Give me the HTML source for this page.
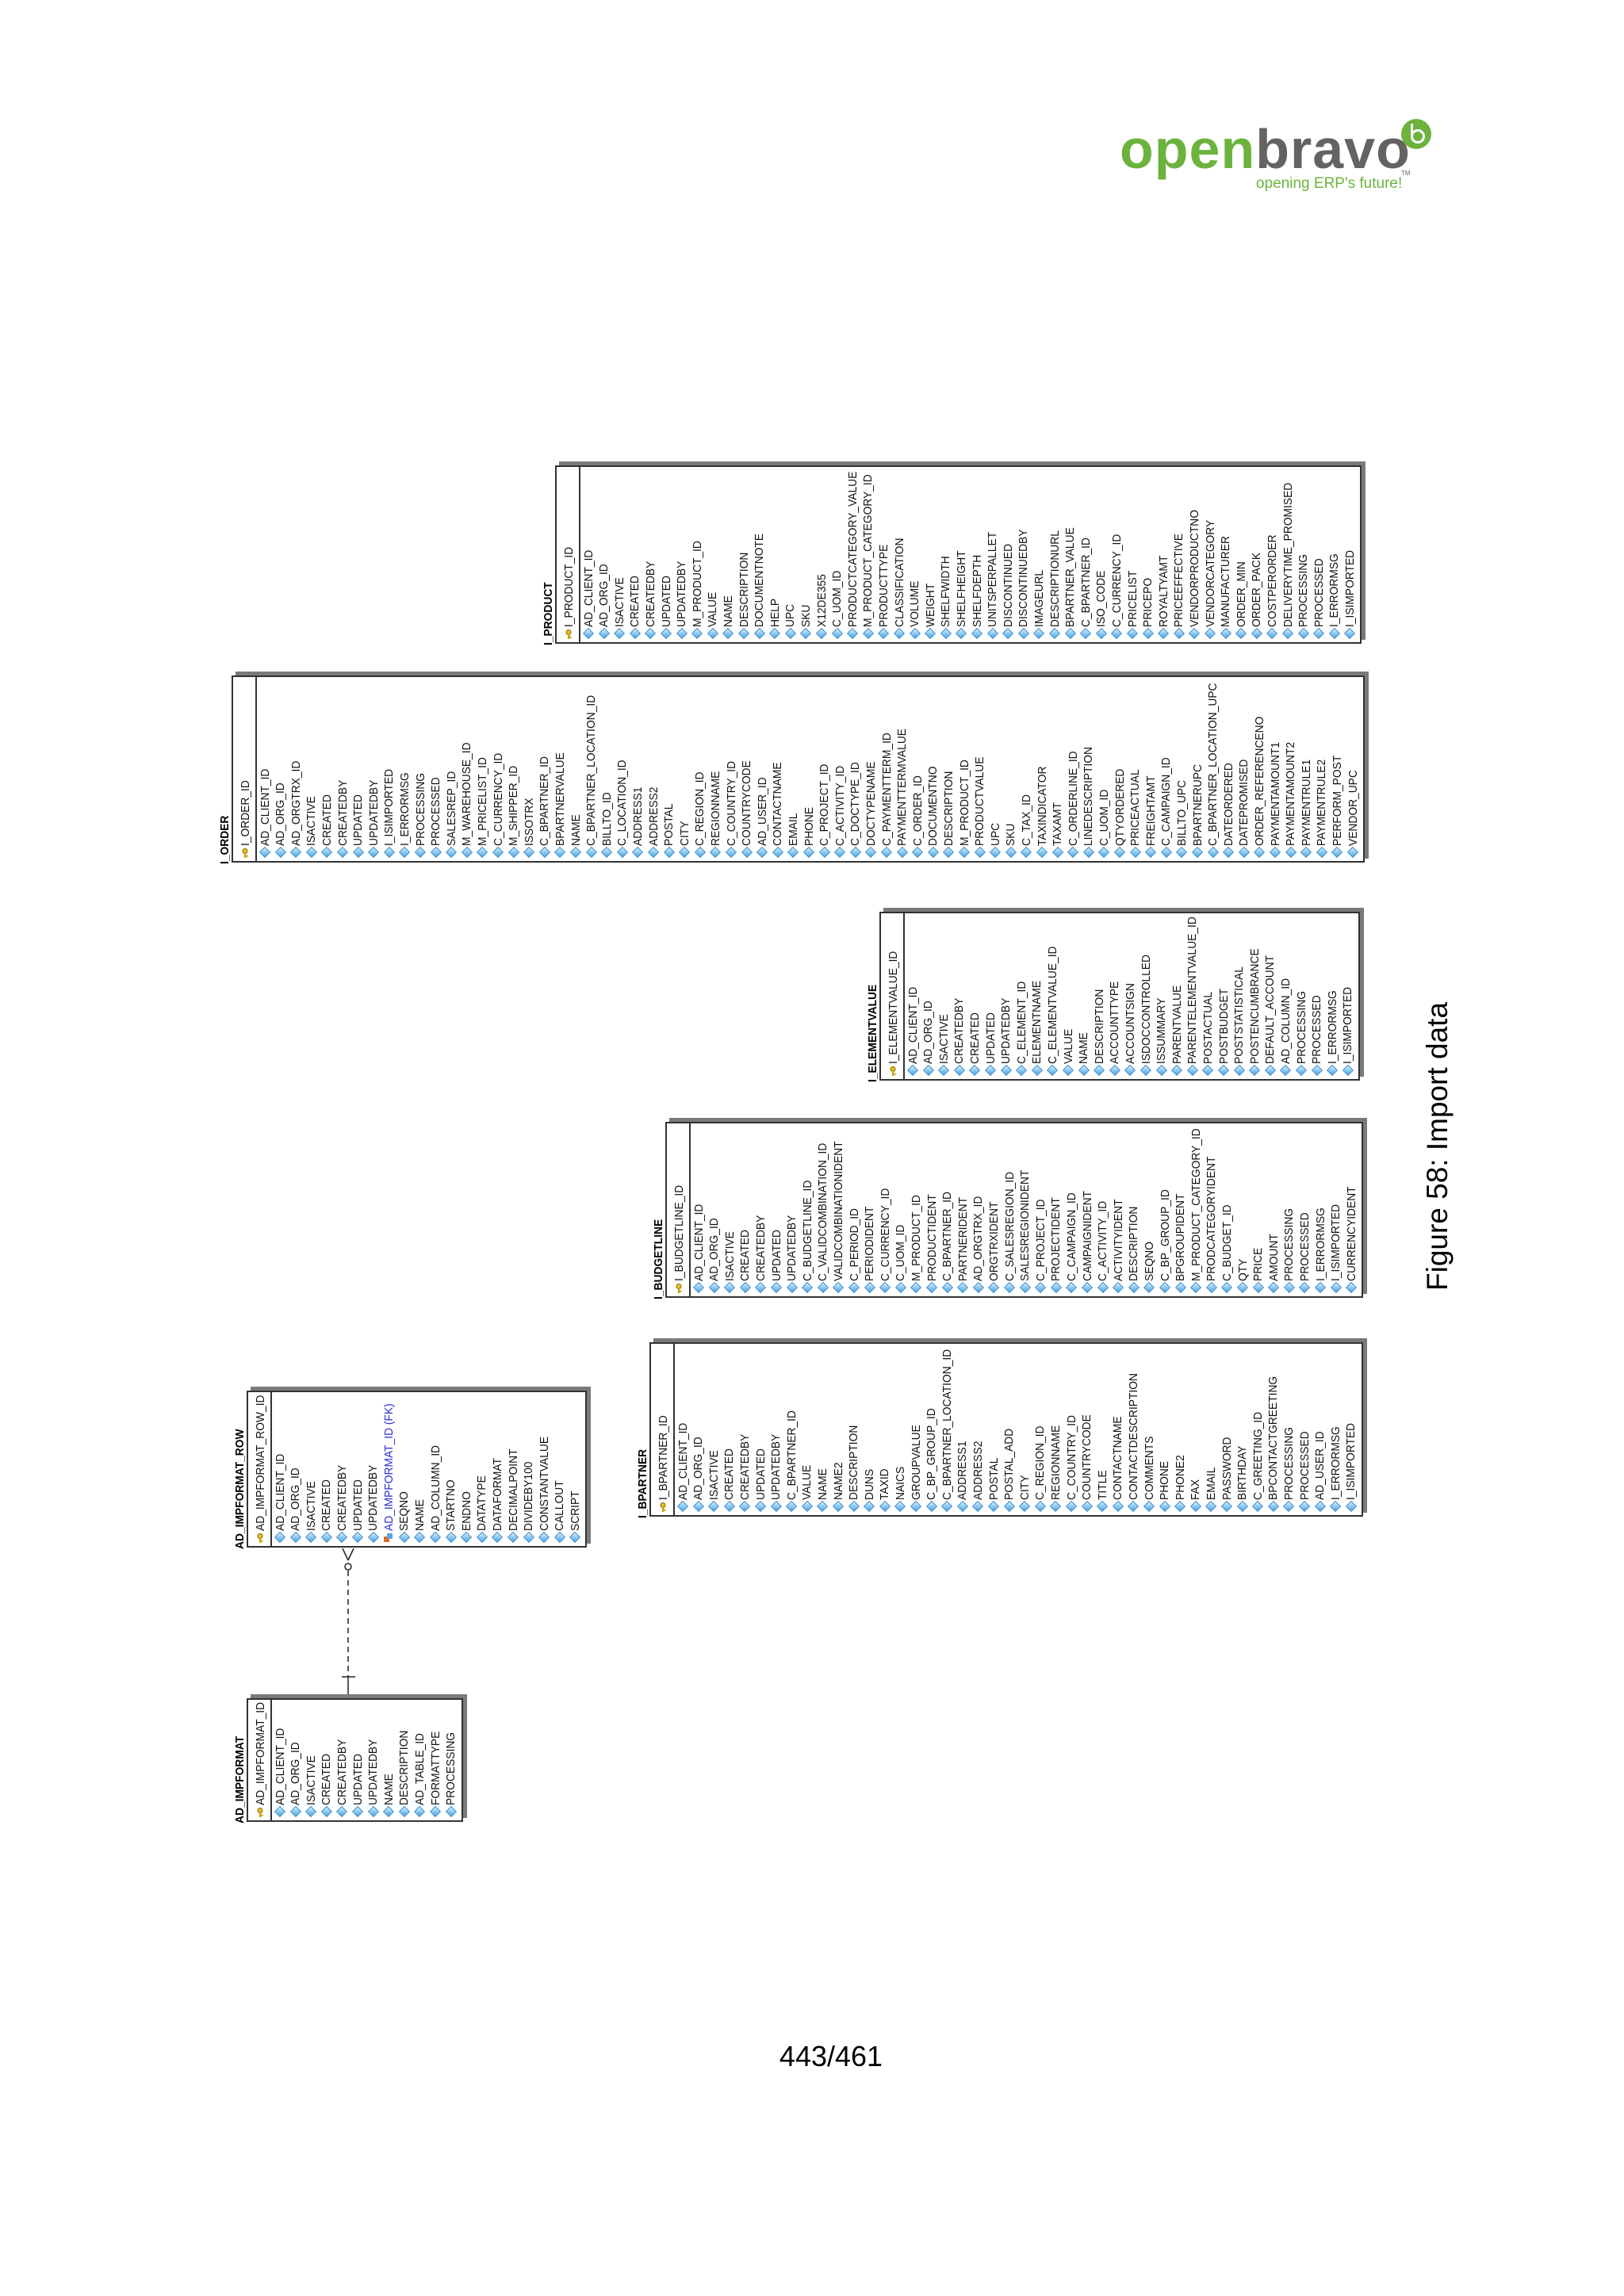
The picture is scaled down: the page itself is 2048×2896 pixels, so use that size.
<!DOCTYPE html>
<html>
<head>
<meta charset="utf-8">
<style>
  html,body{margin:0;padding:0;background:#fff;}
  #page{position:relative;width:2048px;height:2896px;overflow:hidden;background:#fff;font-family:"Liberation Sans",Arial,sans-serif;}
  .shadow{position:absolute;background:#7a7a7a;}
  .box{position:absolute;background:#fff;border:2px solid #333;box-sizing:border-box;}
  .divider{position:absolute;width:1.5px;background:#333;}
  .fld{position:absolute;white-space:nowrap;font-size:15px;line-height:15px;color:#111;transform-origin:0 0;transform:rotate(-90deg) scale(0.92,1);}
  .ttl{font-weight:bold;color:#000;}
  .fk{color:#2b2bd6;}
  .dia{position:absolute;width:8px;height:8px;background:linear-gradient(135deg,#d6f0ff,#4aa3e0);border:1px solid #3b8ccc;transform:rotate(45deg);}
  .key{position:absolute;width:9px;height:12px;}
  .cap{position:absolute;font-size:37px;white-space:nowrap;transform-origin:0 0;transform:rotate(-90deg);color:#000;}
</style>
</head>
<body>
<div id="page">
  <div style="position:absolute;left:1410px;top:140px;width:400px;height:110px;">
    <div style="position:absolute;left:2px;top:8px;font-size:70px;font-weight:bold;letter-spacing:1px;line-height:80px;">
      <span style="color:#6cb33e;">open</span><span style="color:#636363;">bravo</span>
    </div>
    <div style="position:absolute;left:357px;top:10px;width:38px;height:38px;border-radius:50%;background:#6cb33e;">
      <div style="position:absolute;left:12px;top:13px;width:12px;height:12px;border:3px solid #fff;border-radius:50%;"></div>
      <div style="position:absolute;left:12px;top:6px;width:3px;height:14px;background:#fff;"></div>
    </div>
    <div style="position:absolute;left:357px;top:74px;font-size:8px;color:#666;">TM</div>
    <div style="position:absolute;left:174px;top:81px;font-size:19px;color:#6cb33e;white-space:nowrap;">opening ERP's future!</div>
  </div>

  <svg style="position:absolute;left:0;top:0;" width="2048" height="2896">
    <line x1="439" y1="1981" x2="439" y2="2115" stroke="#222" stroke-width="1.5" stroke-dasharray="7,5"/>
    <line x1="439" y1="2115" x2="439" y2="2142" stroke="#222" stroke-width="1.5"/>
    <line x1="431" y1="2115" x2="448" y2="2115" stroke="#222" stroke-width="1.5"/>
    <line x1="432" y1="1953" x2="439" y2="1968" stroke="#222" stroke-width="1.5"/>
    <line x1="446" y1="1953" x2="439" y2="1968" stroke="#222" stroke-width="1.5"/>
    <circle cx="439" cy="1976" r="4" fill="#fff" stroke="#222" stroke-width="1.5"/>
  </svg>

  <div class="cap" style="left:1792px;top:1628px;">Figure 58: Import data</div>
  <div style="position:absolute;left:980px;top:2573px;width:136px;text-align:center;font-size:36px;color:#000;">443/461</div>
</div>
<script>
var impformatFields = ["AD_CLIENT_ID","AD_ORG_ID","ISACTIVE","CREATED","CREATEDBY","UPDATED","UPDATEDBY","NAME","DESCRIPTION","AD_TABLE_ID","FORMATTYPE","PROCESSING"];
var impformatRowFields = ["AD_CLIENT_ID","AD_ORG_ID","ISACTIVE","CREATED","CREATEDBY","UPDATED","UPDATEDBY","*AD_IMPFORMAT_ID (FK)","SEQNO","NAME","AD_COLUMN_ID","STARTNO","ENDNO","DATATYPE","DATAFORMAT","DECIMALPOINT","DIVIDEBY100","CONSTANTVALUE","CALLOUT","SCRIPT"];
var orderFields = ["AD_CLIENT_ID","AD_ORG_ID","AD_ORGTRX_ID","ISACTIVE","CREATED","CREATEDBY","UPDATED","UPDATEDBY","I_ISIMPORTED","I_ERRORMSG","PROCESSING","PROCESSED","SALESREP_ID","M_WAREHOUSE_ID","M_PRICELIST_ID","C_CURRENCY_ID","M_SHIPPER_ID","ISSOTRX","C_BPARTNER_ID","BPARTNERVALUE","NAME","C_BPARTNER_LOCATION_ID","BILLTO_ID","C_LOCATION_ID","ADDRESS1","ADDRESS2","POSTAL","CITY","C_REGION_ID","REGIONNAME","C_COUNTRY_ID","COUNTRYCODE","AD_USER_ID","CONTACTNAME","EMAIL","PHONE","C_PROJECT_ID","C_ACTIVITY_ID","C_DOCTYPE_ID","DOCTYPENAME","C_PAYMENTTERM_ID","PAYMENTTERMVALUE","C_ORDER_ID","DOCUMENTNO","DESCRIPTION","M_PRODUCT_ID","PRODUCTVALUE","UPC","SKU","C_TAX_ID","TAXINDICATOR","TAXAMT","C_ORDERLINE_ID","LINEDESCRIPTION","C_UOM_ID","QTYORDERED","PRICEACTUAL","FREIGHTAMT","C_CAMPAIGN_ID","BILLTO_UPC","BPARTNERUPC","C_BPARTNER_LOCATION_UPC","DATEORDERED","DATEPROMISED","ORDER_REFERENCENO","PAYMENTAMOUNT1","PAYMENTAMOUNT2","PAYMENTRULE1","PAYMENTRULE2","PERFORM_POST","VENDOR_UPC"];
var productFields = ["AD_CLIENT_ID","AD_ORG_ID","ISACTIVE","CREATED","CREATEDBY","UPDATED","UPDATEDBY","M_PRODUCT_ID","VALUE","NAME","DESCRIPTION","DOCUMENTNOTE","HELP","UPC","SKU","X12DE355","C_UOM_ID","PRODUCTCATEGORY_VALUE","M_PRODUCT_CATEGORY_ID","PRODUCTTYPE","CLASSIFICATION","VOLUME","WEIGHT","SHELFWIDTH","SHELFHEIGHT","SHELFDEPTH","UNITSPERPALLET","DISCONTINUED","DISCONTINUEDBY","IMAGEURL","DESCRIPTIONURL","BPARTNER_VALUE","C_BPARTNER_ID","ISO_CODE","C_CURRENCY_ID","PRICELIST","PRICEPO","ROYALTYAMT","PRICEEFFECTIVE","VENDORPRODUCTNO","VENDORCATEGORY","MANUFACTURER","ORDER_MIN","ORDER_PACK","COSTPERORDER","DELIVERYTIME_PROMISED","PROCESSING","PROCESSED","I_ERRORMSG","I_ISIMPORTED"];
var elementFields = ["AD_CLIENT_ID","AD_ORG_ID","ISACTIVE","CREATEDBY","CREATED","UPDATED","UPDATEDBY","C_ELEMENT_ID","ELEMENTNAME","C_ELEMENTVALUE_ID","VALUE","NAME","DESCRIPTION","ACCOUNTTYPE","ACCOUNTSIGN","ISDOCCONTROLLED","ISSUMMARY","PARENTVALUE","PARENTELEMENTVALUE_ID","POSTACTUAL","POSTBUDGET","POSTSTATISTICAL","POSTENCUMBRANCE","DEFAULT_ACCOUNT","AD_COLUMN_ID","PROCESSING","PROCESSED","I_ERRORMSG","I_ISIMPORTED"];
var budgetFields = ["AD_CLIENT_ID","AD_ORG_ID","ISACTIVE","CREATED","CREATEDBY","UPDATED","UPDATEDBY","C_BUDGETLINE_ID","C_VALIDCOMBINATION_ID","VALIDCOMBINATIONIDENT","C_PERIOD_ID","PERIODIDENT","C_CURRENCY_ID","C_UOM_ID","M_PRODUCT_ID","PRODUCTIDENT","C_BPARTNER_ID","PARTNERIDENT","AD_ORGTRX_ID","ORGTRXIDENT","C_SALESREGION_ID","SALESREGIONIDENT","C_PROJECT_ID","PROJECTIDENT","C_CAMPAIGN_ID","CAMPAIGNIDENT","C_ACTIVITY_ID","ACTIVITYIDENT","DESCRIPTION","SEQNO","C_BP_GROUP_ID","BPGROUPIDENT","M_PRODUCT_CATEGORY_ID","PRODCATEGORYIDENT","C_BUDGET_ID","QTY","PRICE","AMOUNT","PROCESSING","PROCESSED","I_ERRORMSG","I_ISIMPORTED","CURRENCYIDENT"];
var bpartnerFields = ["AD_CLIENT_ID","AD_ORG_ID","ISACTIVE","CREATED","CREATEDBY","UPDATED","UPDATEDBY","C_BPARTNER_ID","VALUE","NAME","NAME2","DESCRIPTION","DUNS","TAXID","NAICS","GROUPVALUE","C_BP_GROUP_ID","C_BPARTNER_LOCATION_ID","ADDRESS1","ADDRESS2","POSTAL","POSTAL_ADD","CITY","C_REGION_ID","REGIONNAME","C_COUNTRY_ID","COUNTRYCODE","TITLE","CONTACTNAME","CONTACTDESCRIPTION","COMMENTS","PHONE","PHONE2","FAX","EMAIL","PASSWORD","BIRTHDAY","C_GREETING_ID","BPCONTACTGREETING","PROCESSING","PROCESSED","AD_USER_ID","I_ERRORMSG","I_ISIMPORTED"];

var PITCH = 19.6;
var page = document.getElementById('page');

function makeTable(name, pk, fields, firstX, top, bottom) {
  var left = firstX - 42;
  var lastX = firstX + (fields.length - 1) * PITCH;
  var right = lastX + 15;
  var slug = name.toLowerCase().replace(/_/g, '-');

  var sh = document.createElement('div');
  sh.className = 'shadow';
  
  
  sh.style.left = (left + 5) + 'px'; sh.style.top = (top - 5) + 'px';
  sh.style.width = (right - left) + 'px'; sh.style.height = (bottom - top) + 'px';
  page.appendChild(sh);

  var box = document.createElement('div');
  box.className = 'box';
  
  
  box.style.left = left + 'px'; box.style.top = top + 'px';
  box.style.width = (right - left) + 'px'; box.style.height = (bottom - top) + 'px';
  page.appendChild(box);

  var dv = document.createElement('div');
  dv.className = 'divider';
  
  
  dv.style.left = (left + 30) + 'px'; dv.style.top = top + 'px'; dv.style.height = (bottom - top) + 'px';
  page.appendChild(dv);

  var t = document.createElement('div');
  t.className = 'fld ttl';
  
  
  t.textContent = name;
  t.style.left = (left - 16) + 'px'; t.style.top = (bottom + 2) + 'px';
  page.appendChild(t);

  var k = document.createElement('div');
  k.className = 'key';
  
  
  k.innerHTML = '<svg width="12" height="12"><circle cx="6" cy="3.5" r="3" fill="#e8c020" stroke="#8a6a00" stroke-width="1"/><rect x="5" y="6" width="2.5" height="6" fill="#c9a010"/><rect x="7" y="9" width="3" height="1.5" fill="#c9a010"/></svg>';
  k.style.left = (left + 11) + 'px'; k.style.top = (bottom - 19) + 'px';
  page.appendChild(k);
  var p = document.createElement('div');
  p.className = 'fld';
  
  
  p.textContent = pk;
  p.style.left = (left + 17 - 7.5) + 'px'; p.style.top = (bottom - 21) + 'px';
  page.appendChild(p);

  for (var i = 0; i < fields.length; i++) {
    var cx = firstX + i * PITCH;
    var label = fields[i];
    var isFk = label.charAt(0) === '*';
    if (isFk) label = label.substring(1);
    var ic = document.createElement('div');
    
    
    if (isFk) {
      ic.className = 'key';
      ic.innerHTML = '<svg width="12" height="12"><rect x="0" y="4" width="7" height="7" fill="#e06a20"/><rect x="4" y="0" width="7" height="7" fill="#5aa8e0"/></svg>';
      ic.style.left = (cx - 6) + 'px'; ic.style.top = (bottom - 19) + 'px';
    } else {
      ic.className = 'dia';
      ic.style.left = (cx - 5) + 'px'; ic.style.top = (bottom - 18) + 'px';
    }
    page.appendChild(ic);
    var f = document.createElement('div');
    f.className = isFk ? 'fld fk' : 'fld';
    
    
    f.textContent = label;
    f.style.left = (cx - 7.5) + 'px'; f.style.top = (bottom - 21) + 'px';
    page.appendChild(f);
  }
}

makeTable('AD_IMPFORMAT', 'AD_IMPFORMAT_ID', impformatFields, 353, 2142, 2298);
makeTable('AD_IMPFORMAT_ROW', 'AD_IMPFORMAT_ROW_ID', impformatRowFields, 353, 1754, 1952);
makeTable('I_ORDER', 'I_ORDER_ID', orderFields, 334, 852, 1088);
makeTable('I_PRODUCT', 'I_PRODUCT_ID', productFields, 742, 587, 812);
makeTable('I_ELEMENTVALUE', 'I_ELEMENTVALUE_ID', elementFields, 1151, 1150, 1363);
makeTable('I_BUDGETLINE', 'I_BUDGETLINE_ID', budgetFields, 881, 1415, 1637);
makeTable('I_BPARTNER', 'I_BPARTNER_ID', bpartnerFields, 861, 1693, 1913);
</script>
</body>
</html>
